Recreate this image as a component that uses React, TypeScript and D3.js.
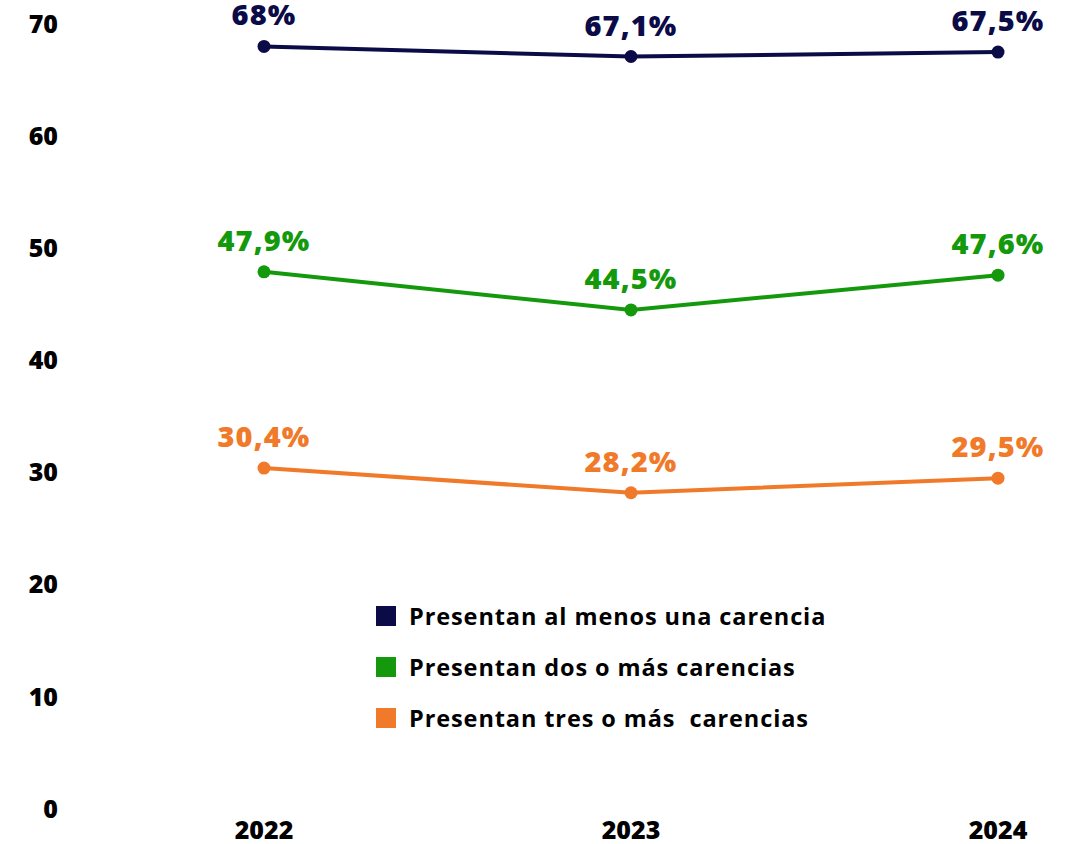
import * as d3 from "d3";

const years = ["2022", "2023", "2024"];
const alMenosUna = [68, 67.1, 67.5];
const dosOMas = [47.9, 44.5, 47.6];
const tresOMas = [30.4, 28.2, 29.5];
const labelsUna = ["68%", "67,1%", "67,5%"];
const labelsDos = ["47,9%", "44,5%", "47,6%"];
const labelsTres = ["30,4%", "28,2%", "29,5%"];
const yTicks = [0, 10, 20, 30, 40, 50, 60, 70];
const legendNames = [
  "Presentan al menos una carencia",
  "Presentan dos o más carencias",
  "Presentan tres o más  carencias",
];

const W = 1068;
const H = 844;
const NAVY = "#0b0b47";
const GREEN = "#15990c";
const ORANGE = "#f07a29";

export default function App() {
  const x = d3.scalePoint<string>().domain(years).range([264, 998]);
  const y = d3.scaleLinear().domain([0, 70]).range([809, 24]);

  const series = [
    { name: legendNames[0], values: alMenosUna, labels: labelsUna, color: NAVY },
    { name: legendNames[1], values: dosOMas, labels: labelsDos, color: GREEN },
    { name: legendNames[2], values: tresOMas, labels: labelsTres, color: ORANGE },
  ];

  const line = d3
    .line<number>()
    .x((_, i) => x(years[i]) ?? 0)
    .y((d) => y(d));

  return (
    <svg
      width={W}
      height={H}
      style={{ position: "absolute", left: 0, top: 0, background: "#fff" }}
      fontFamily="'Open Sans', sans-serif"
    >
      {yTicks.map((t) => (
        <text
          key={t}
          x={58}
          y={y(t)}
          dy="0.35em"
          textAnchor="end"
          fontSize={25}
          fontWeight={800}
          fill="#000"
        >
          {t}
        </text>
      ))}
      {years.map((yr) => (
        <text
          key={yr}
          x={x(yr)}
          y={839}
          textAnchor="middle"
          fontSize={25}
          fontWeight={800}
          fill="#000"
        >
          {yr}
        </text>
      ))}
      {series.map((s) => (
        <g key={s.name}>
          <path d={line(s.values) ?? ""} fill="none" stroke={s.color} strokeWidth={4} />
          {s.values.map((v, i) => (
            <circle key={i} cx={x(years[i])} cy={y(v)} r={6.5} fill={s.color} />
          ))}
          {s.values.map((v, i) => (
            <text
              key={`l${i}`}
              x={x(years[i])}
              y={y(v) - 21}
              textAnchor="middle"
              fontSize={29}
              fontWeight={800}
              letterSpacing={1.1}
              fill={s.color}
            >
              {s.labels[i]}
            </text>
          ))}
        </g>
      ))}
      {series.map((s, i) => (
        <g key={`leg${i}`} transform={`translate(376, ${606 + i * 51})`}>
          <rect width={20} height={20} fill={s.color} />
          <text
            x={33}
            y={19}
            fontSize={23.5}
            fontWeight={700}
            letterSpacing={0.9}
            fill="#000"
            style={{ whiteSpace: "pre" }}
          >
            {s.name}
          </text>
        </g>
      ))}
    </svg>
  );
}
